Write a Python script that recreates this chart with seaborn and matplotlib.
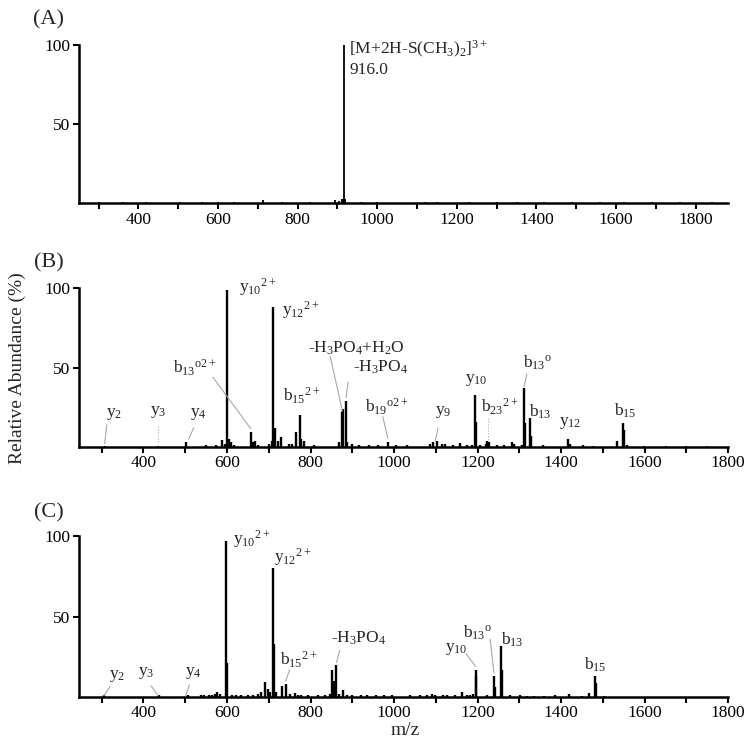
import matplotlib
matplotlib.use("Agg")
import matplotlib.pyplot as plt
import seaborn as sns

# ---- spectrum (A): MS of precursor ----
mz_a = [300, 330, 362, 395, 420, 455, 505, 540, 560, 600, 640, 680, 712, 760, 800, 830, 870,
        895, 905, 912, 914, 916, 918, 920, 960, 1000, 1040, 1080, 1120, 1150, 1190, 1230, 1270,
        1300, 1350, 1390, 1420, 1460, 1490, 1530, 1560, 1600, 1620, 1660, 1690, 1730, 1760,
        1800, 1840, 1870]
int_a = [0.8, 0.5, 0.6, 0.5, 0.7, 0.5, 0.6, 0.5, 0.8, 0.6, 0.7, 0.5, 2.2, 0.6, 0.5, 0.6, 0.5,
         1.8, 1.2, 2.5, 3.0, 100, 2.5, 1.5, 0.6, 0.6, 0.5, 0.5, 0.6, 0.6, 0.5, 0.7, 0.5,
         0.8, 0.6, 0.5, 0.6, 0.5, 0.7, 0.5, 0.6, 0.5, 0.7, 0.5, 0.6, 0.5, 0.6,
         0.5, 0.6, 0.5]

# ---- spectrum (B) ----
mz_b = [307, 434, 502, 550, 574, 589, 594, 600, 605, 610, 616, 657, 662, 667, 675, 700, 708,
        711, 716, 721, 729, 749, 755, 765, 775, 777, 785, 809, 869, 875, 878, 884, 888, 899,
        917, 941, 961, 985, 1005, 1030, 1086, 1094, 1102, 1114, 1122, 1142, 1158, 1174, 1186,
        1194, 1197, 1206, 1220, 1223, 1228, 1246, 1262, 1282, 1287, 1306, 1310, 1313, 1325,
        1328, 1357, 1417, 1421, 1452, 1477, 1534, 1548, 1551, 1558, 1598, 1650, 1700, 1750]
int_b = [0.6, 0.6, 3.0, 1.0, 1.0, 4.5, 2.0, 99, 5.0, 3.0, 1.5, 9.5, 3.0, 4.0, 1.0, 2.0, 4.0,
         88, 12, 4.0, 6.0, 2.0, 2.0, 9.6, 20, 5.0, 4.0, 1.0, 3.0, 22, 24, 29, 3.0, 2.0,
         1.0, 1.0, 1.0, 3.0, 1.0, 1.0, 2.0, 3.0, 3.5, 2.0, 2.0, 1.0, 2.5, 1.0, 1.0,
         33, 16, 1.0, 2.0, 3.5, 3.0, 1.0, 1.0, 3.0, 2.0, 1.5, 37, 15, 18,
         7.0, 1.0, 5.0, 2.0, 1.5, 0.8, 4.0, 15, 11, 1.0, 0.7, 0.5, 0.5, 0.5]

# ---- spectrum (C) ----
mz_c = [305, 438, 506, 538, 545, 557, 565, 572, 577, 582, 598, 600, 612, 622, 634, 650, 662,
        674, 682, 692, 698, 702, 711, 713, 718, 732, 740, 750, 762, 770, 778, 794, 818, 834,
        846, 852, 857, 860, 868, 878, 888, 900, 920, 936, 956, 976, 996, 1038, 1062, 1078,
        1090, 1098, 1118, 1126, 1146, 1162, 1174, 1182, 1188, 1195, 1197, 1223, 1238, 1241,
        1256, 1259, 1278, 1302, 1318, 1334, 1358, 1386, 1418, 1450, 1466, 1482, 1484, 1502]
int_c = [1.0, 1.0, 1.0, 1.0, 1.0, 1.0, 1.5, 2.0, 3.0, 2.0, 97, 21, 1.0, 1.5, 1.0, 1.0, 1.5,
         2.0, 3.0, 9.3, 5.0, 3.0, 80, 33, 3.0, 7.0, 8.3, 2.0, 2.5, 1.5, 1.5, 1.0, 1.0, 1.5,
         2.0, 17, 10, 20, 2.0, 4.5, 1.0, 1.0, 1.0, 1.0, 1.5, 1.0, 1.5, 1.0, 1.0, 1.5,
         2.0, 1.5, 1.5, 1.0, 1.0, 3.0, 1.5, 1.5, 2.0, 17, 13, 1.0, 13, 6.0,
         32, 17, 1.0, 1.0, 0.8, 0.8, 0.8, 1.5, 2.0, 0.8, 2.5, 13, 9.0, 0.6]

HY = "\u2010"  # plain hyphen instead of the math minus sign

# peak labels: (text, m/z, abundance, horizontal alignment)
labels_b = [
    (r"y_2", 330, 21, "center"), (r"y_3", 436, 22, "center"), (r"y_4", 531, 21, "center"),
    (r"y_{10}{}^{2+}", 628, 101, "left"), (r"y_{12}{}^{2+}", 732, 86, "left"),
    (r"b_{13}{}^{o2+}", 523, 50, "center"),
    (HY + r"H_3PO_4{+}H_2O", 910, 62, "center"), (HY + r"H_3PO_4", 967, 50, "center"),
    (r"b_{15}{}^{2+}", 780, 32, "center"), (r"b_{19}{}^{o2+}", 983, 25, "center"),
    (r"y_9", 1117, 22, "center"), (r"y_{10}", 1197, 42, "center"),
    (r"b_{23}{}^{2+}", 1252, 25, "center"), (r"b_{13}{}^{o}", 1343, 53, "center"),
    (r"b_{13}", 1351, 22, "center"), (r"y_{12}", 1421, 15, "center"),
    (r"b_{15}", 1553, 23, "center"),
]
labels_c = [
    (r"y_2", 337, 13, "center"), (r"y_3", 406, 15, "center"), (r"y_4", 519, 15, "center"),
    (r"y_{10}{}^{2+}", 614, 98, "left"), (r"y_{12}{}^{2+}", 712, 87, "left"),
    (r"b_{15}{}^{2+}", 773, 23, "center"), (HY + r"H_3PO_4", 916, 36.5, "center"),
    (r"y_{10}", 1150, 30, "center"), (r"b_{13}{}^{o}", 1199, 40, "center"),
    (r"b_{13}", 1282, 35.5, "center"), (r"b_{15}", 1481, 20, "center"),
]

# leader lines: (m/z start, abundance start, m/z end, abundance end, linestyle)
leaders_b = [
    (312, 14, 307, 2, "-"), (434, 13, 434, 2, ":"), (520, 12, 508, 5, "-"),
    (566, 44, 657, 11.5, "-"), (847, 57, 876, 23, "-"), (890, 41, 885, 31, "-"),
    (973, 19, 985, 5.6, "-"), (1105, 12, 1099, 4, "-"), (1226, 18, 1226, 4, ":"),
    (1318, 46, 1311, 38, "-"),
]
leaders_c = [
    (320, 6.6, 305, 0.8, "-"), (418, 7, 435, 0.8, "-"), (510, 7.6, 501, 0.8, "-"),
    (750, 17, 740, 9.7, "-"), (870, 29, 862, 21.5, "-"), (1172, 27, 1195, 19, "-"),
    (1230, 36, 1239, 15, "-"),
]

sns.set_theme(style="ticks")
plt.rcParams["font.family"] = ["Liberation Serif", "DejaVu Serif"]
plt.rcParams["mathtext.fontset"] = "custom"
plt.rcParams["mathtext.rm"] = "Liberation Serif"
plt.rcParams["mathtext.it"] = "Liberation Serif:italic"

fig = plt.figure(figsize=(7.5, 7.42), dpi=100)
ax_a = fig.add_axes([0.105, 0.726, 0.866, 0.214])
ax_b = fig.add_axes([0.105, 0.3976, 0.866, 0.214])
ax_c = fig.add_axes([0.105, 0.0606, 0.866, 0.217])


def style_axis(ax, xlim):
    ax.set_xlim(*xlim)
    ax.set_ylim(0, 100)
    ax.set_yticks([50, 100])
    ax.set_xticks(range(400, 1801, 200))
    ax.set_xticks(range(300, int(xlim[1]) + 1, 100), minor=True)
    ax.tick_params(axis="both", which="both", direction="out", length=4, width=1.5,
                   labelsize=12.5, pad=2, color="black", labelcolor="black")
    sns.despine(ax=ax)
    for side in ("left", "bottom"):
        ax.spines[side].set_linewidth(1.8)
        ax.spines[side].set_color("black")
    ax.grid(False)
    ax.set_facecolor("white")


def draw_spectrum(ax, mz, inten, lw):
    ax.vlines(mz, 0, inten, color="black", linewidth=lw, clip_on=False)


draw_spectrum(ax_a, mz_a, int_a, 1.3)
style_axis(ax_a, (250, 1882))
ax_a.text(930, 97, r"$\mathregular{[M{+}2H" + HY + r"S(CH_3)_2]^{3+}}$", fontsize=12.5,
          ha="left", va="center")
ax_a.text(930, 84, "916.0", fontsize=12.5, ha="left", va="center")

for ax, mz, inten, labels, leaders in [(ax_b, mz_b, int_b, labels_b, leaders_b),
                                       (ax_c, mz_c, int_c, labels_c, leaders_c)]:
    draw_spectrum(ax, mz, inten, 1.7)
    style_axis(ax, (245, 1800))
    for x0, y0, x1, y1, ls in leaders:
        ax.plot([x0, x1], [y0, y1], color="#a8a8a8", linewidth=0.8, linestyle=ls)
    for txt, x, y, ha in labels:
        ax.text(x, y, r"$\mathregular{" + txt + "}$", fontsize=12.5, ha=ha, va="center",
                clip_on=False)

fig.text(0.065, 0.973, "(A)", fontsize=16, ha="center", va="center")
fig.text(0.065, 0.646, "(B)", fontsize=16, ha="center", va="center")
fig.text(0.065, 0.309, "(C)", fontsize=16, ha="center", va="center")
fig.text(0.023, 0.504, "Relative Abundance (%)", fontsize=14, rotation=90,
         ha="center", va="center")
fig.text(0.54, 0.016, "m/z", fontsize=14, ha="center", va="center")

fig.savefig("out.png", dpi=100, facecolor="white")
